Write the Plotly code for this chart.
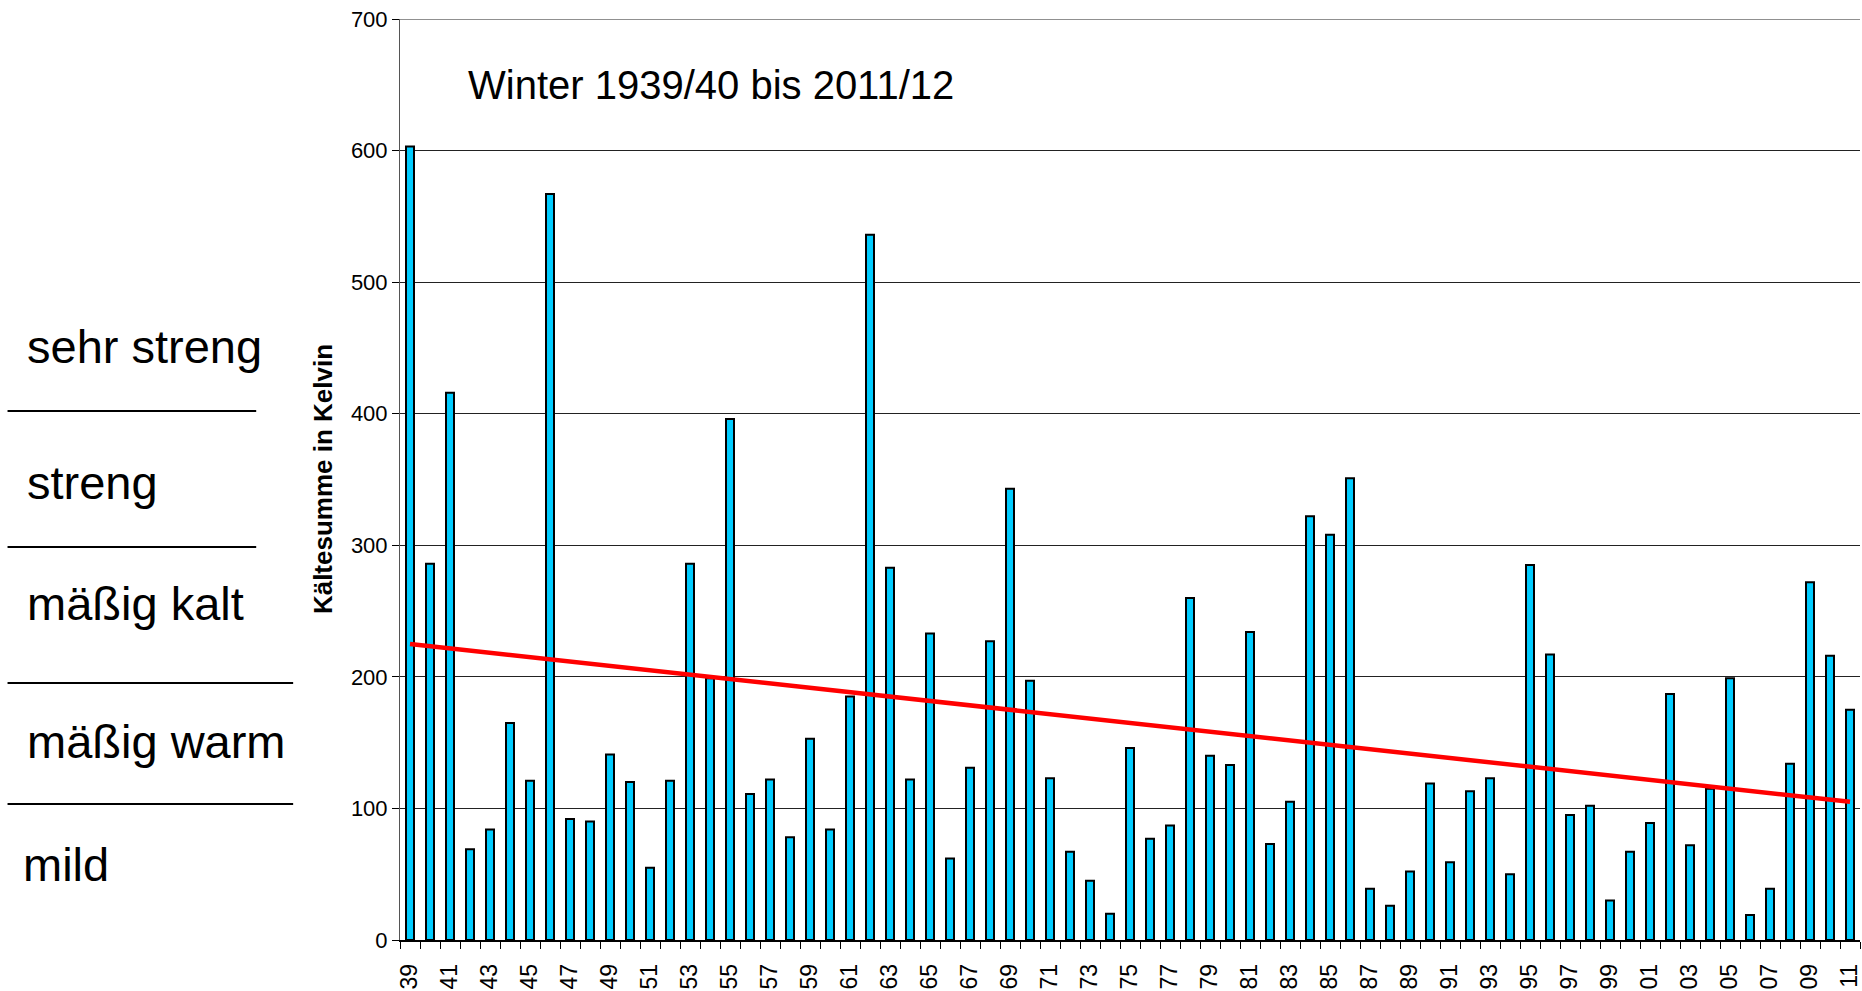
import plotly.graph_objects as go

# Winter (Jahr des Winterbeginns) und Kältesumme in Kelvin
years = list(range(1939, 2012))
kaeltesumme = [
    603, 286, 416, 69, 84, 165, 121, 567, 92, 90,
    141, 120, 55, 121, 286, 199, 396, 111, 122, 78,
    153, 84, 185, 536, 283, 122, 233, 62, 131, 227,
    343, 197, 123, 67, 45, 20, 146, 77, 87, 260,
    140, 133, 234, 73, 105, 322, 308, 351, 39, 26,
    52, 119, 59, 113, 123, 50, 285, 217, 95, 102,
    30, 67, 89, 187, 72, 115, 199, 19, 39, 134,
    272, 216, 175,
]
tick_years = [1939, 1941, 1943, 1945, 1947, 1949, 1951, 1953, 1955, 1957, 1959,
              1961, 1963, 1965, 1967, 1969, 1971, 1973, 1975, 1977, 1979, 1981,
              1983, 1985, 1987, 1989, 1991, 1993, 1995, 1997, 1999, 2001, 2003,
              2005, 2007, 2009, 2011]
tick_labels = ["39", "41", "43", "45", "47", "49", "51", "53", "55", "57", "59",
               "61", "63", "65", "67", "69", "71", "73", "75", "77", "79", "81",
               "83", "85", "87", "89", "91", "93", "95", "97", "99", "01", "03",
               "05", "07", "09", "11"]
# linearer Trend (Anfangs- und Endwert)
trend_years = [1939, 2011]
trend_values = [225, 105]

klassen = ["sehr streng", "streng", "mäßig kalt", "mäßig warm", "mild"]

FONT = "Liberation Sans, Arial, sans-serif"
W, H = 1862, 991
L, R, T, B = 400, 0, 19, 51


def px(x):
    return (x - L) / (W - L - R)


def py(y):
    return (H - B - y) / (H - T - B)


fig = go.Figure()
fig.add_trace(go.Bar(
    x=years, y=kaeltesumme, width=0.4,
    marker=dict(color="#00CCFF", line=dict(color="black", width=2)),
    showlegend=False,
))
fig.add_trace(go.Scatter(
    x=trend_years, y=trend_values, mode="lines",
    line=dict(color="#FF0000", width=4.5), showlegend=False,
))

fig.update_layout(
    width=W, height=H,
    margin=dict(l=L, r=R, t=T, b=B),
    paper_bgcolor="white", plot_bgcolor="white",
    font=dict(family=FONT, color="black"),
    xaxis=dict(
        range=[years[0] - 0.5, years[-1] + 0.5],
        tickvals=tick_years, ticktext=tick_labels, tickangle=-90,
        ticks="outside", ticklen=7, tickcolor="rgba(0,0,0,0)",
        ticklabelstandoff=6, ticklabeloverflow="allow",
        tickfont=dict(size=23),
        minor=dict(tickvals=[y + 0.5 for y in [years[0] - 1] + years],
                   ticks="outside", ticklen=7, tickcolor="black", tickwidth=1,
                   showgrid=False),
        showgrid=False, zeroline=False,
        showline=True, linecolor="black", linewidth=1.5,
    ),
    yaxis=dict(
        range=[0, 700], dtick=100,
        ticks="outside", ticklen=7, tickcolor="black",
        tickfont=dict(size=22),
        showgrid=True, gridcolor="#222222", gridwidth=1,
        zeroline=False,
        showline=True, linecolor="#555555", linewidth=1,
    ),
)

# oberer Rahmen
fig.add_shape(type="line", xref="paper", yref="y", x0=0, x1=1, y0=700, y1=700,
              line=dict(color="#909090", width=2))

fig.add_annotation(text="Winter 1939/40 bis 2011/12", xref="paper", yref="paper",
                   x=px(466), y=py(85), xanchor="left", yanchor="middle",
                   showarrow=False, font=dict(size=40))
fig.add_annotation(text="<b>Kältesumme in Kelvin</b>", xref="paper", yref="paper",
                   x=px(323), y=py(479), textangle=-90, xanchor="center",
                   yanchor="middle", showarrow=False, font=dict(size=26))

label_y = [346, 482, 603, 741, 864]
label_x = [24, 24, 24, 24, 20]
for txt, lx, ly in zip(klassen, label_x, label_y):
    fig.add_annotation(text=txt, xref="paper", yref="paper", x=px(lx), y=py(ly),
                       xanchor="left", yanchor="middle", showarrow=False,
                       font=dict(size=47))

line_y = [411, 547, 683, 804]
line_end = [256, 256, 293, 293]
for ly, le in zip(line_y, line_end):
    fig.add_shape(type="line", xref="paper", yref="paper",
                  x0=px(7), x1=px(le), y0=py(ly), y1=py(ly),
                  line=dict(color="black", width=2))

fig.write_html("out.html", config={"displayModeBar": False},
               post_script="document.body.style.margin='0';"
                           "document.body.style.overflow='hidden';")
